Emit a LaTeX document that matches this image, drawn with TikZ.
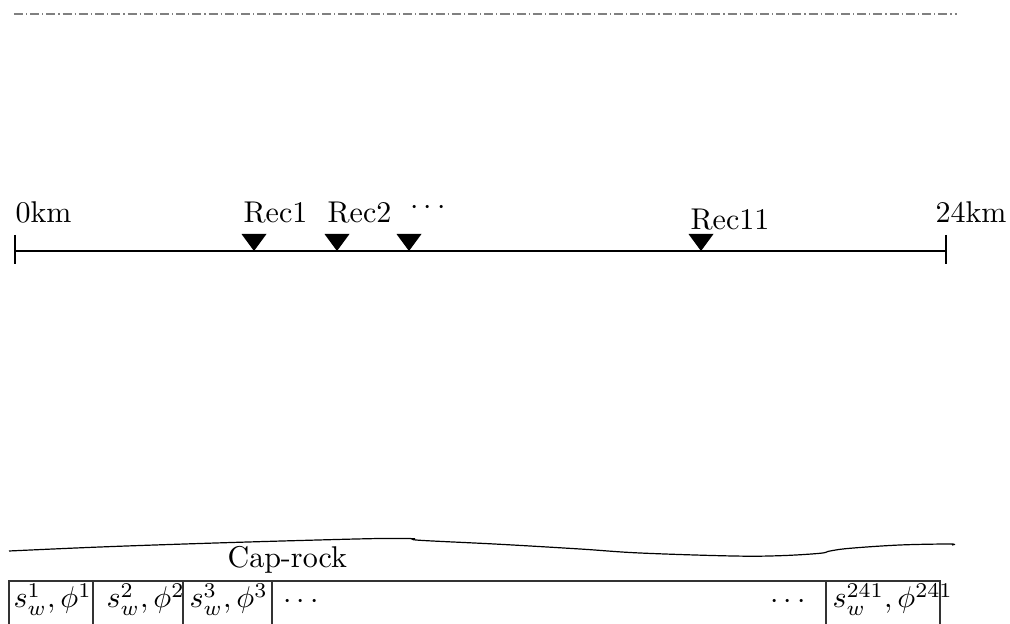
\documentclass[tikz,border=0pt]{standalone}
\begin{document}
\begin{tikzpicture}[x=0.333pt,y=-0.333pt,
  lbl/.style={inner sep=0pt,anchor=base west},
  cellbox/.style={draw=black!80,line width=0.4pt}]
\useasboundingbox (0,0) rectangle (1010,624);
\clip (0,0) rectangle (1010,624);
% top dash-dot line
\coordinate (dl) at (14,14);
\coordinate (dr) at (957,14);
\draw[gray,densely dashdotted] (dl) -- (dr);
% axis
\coordinate (a0) at (15,251);
\coordinate (a1) at (946,251);
\draw (a0) -- (a1);
\draw (a0) ++(0,-16) -- ++(0,29);
\draw (a1) ++(0,-16) -- ++(0,29);
\node[lbl] (l0) at (15,223) {0km};
\node[lbl] (l24) at (935,223) {24km};
% receivers
\foreach \n/\x in {r1/254,r2/337,r3/409,r11/701}{
  \coordinate (\n) at (\x,251);
  \fill (\n) -- ++(-12.5,-17) -- ++(25,0) -- cycle;
}
\node[lbl] (t1) at (243,223) {Rec1};
\node[lbl] (t2) at (327,223) {Rec2};
\node[inner sep=0pt,anchor=west] (t3) at (410,208) {$\cdots$};
\node[lbl] (t11) at (690,230) {Rec11};
% cap-rock boundary
\draw plot[smooth,tension=0.6] coordinates {(9,551) (100,547) (200,543.5) (300,540.5) (380,538.5) (415,538.7)};
\draw plot[smooth,tension=0.6] coordinates {(415,538.7) (420,540.3) (500,544.3) (580,549) (640,553) (733,556) (780,555.7) (820,553.3) (830,551) (850,548.3) (900,545) (950,544) (952,545)};
\node[lbl] (cap) at (227,568) {Cap-rock};
% cells
\draw[cellbox] (9,660) |- (940,581) -- (940,660);
\foreach \x in {93,183,272,826}{
  \draw[cellbox] (\x,581) -- (\x,660);
}
\node[lbl] (c1) at (13,608) {$s_w^1, \phi^1$};
\node[lbl] (c2) at (106,608) {$s_w^2, \phi^2$};
\node[lbl] (c3) at (189,608) {$s_w^3, \phi^3$};
\node[inner sep=0pt,anchor=west] (c4) at (283,602) {$\cdots$};
\node[inner sep=0pt,anchor=west] (c5) at (770,602) {$\cdots$};
\node[lbl] (c6) at (832,608) {$s_w^{241}, \phi^{241}$};
\end{tikzpicture}
\end{document}
